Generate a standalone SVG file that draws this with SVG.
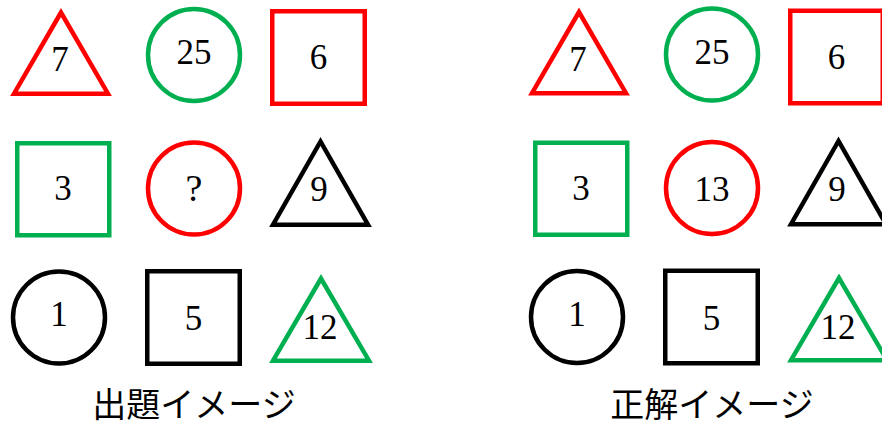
<svg xmlns="http://www.w3.org/2000/svg" width="882" height="428" viewBox="0 0 882 428">
<style>
.s{fill:none;stroke-width:4.5;stroke-linejoin:miter;stroke-miterlimit:10}
.r{stroke:#FF0000}
.g{stroke:#00B050}
.k{stroke:#000000}
.n{font-family:"Liberation Serif","DejaVu Serif",serif;font-size:35px;fill:#000;text-anchor:middle}
.q{font-size:38px}
.c{font-family:"Noto Sans CJK JP","Noto Sans CJK SC",sans-serif;font-size:34px;fill:#000;text-anchor:middle;font-weight:400}
</style>
<defs>
<g id="grid">
<g id="tri7"><polygon class="s r" points="61,12.5 14,93.7 108,93.7"/><text class="n" x="60" y="71">7</text></g>
<g id="circ25"><circle class="s g" cx="194" cy="55" r="46"/><text class="n" x="194" y="64">25</text></g>
<g id="sq6"><rect class="s r" x="272.25" y="11.25" width="92.5" height="92.5"/><text class="n" x="318.5" y="69">6</text></g>
<g id="sq3"><rect class="s g" x="17.25" y="143.25" width="92" height="92"/><text class="n" x="63" y="200">3</text></g>
<g id="tri9"><polygon class="s k" points="320.5,141.5 273,224.7 368,224.7"/><text class="n" x="319" y="201">9</text></g>
<g id="circ1"><circle class="s k" cx="59" cy="317.5" r="46"/><text class="n" x="59" y="326">1</text></g>
<g id="sq5"><rect class="s k" x="147.25" y="271.25" width="92.5" height="92.5"/><text class="n" x="193.5" y="330">5</text></g>
<g id="tri12"><polygon class="s g" points="321,278.5 273,360.7 369,360.7"/><text class="n" x="320" y="339">12</text></g>
</g>
</defs>
<g id="question">
<use href="#grid"/>
<g id="circQ"><circle class="s r" cx="194" cy="188.5" r="46"/><text class="n q" x="194" y="201">?</text></g>
<text class="c" x="194" y="417">出題イメージ</text>
</g>
<g id="answer" transform="translate(518,-0.5)">
<use href="#grid"/>
<g id="circ13"><circle class="s r" cx="194" cy="188.5" r="46"/><text class="n" x="194" y="201">13</text></g>
<text class="c" x="194" y="417">正解イメージ</text>
</g>
<g id="connectors"/>
</svg>
